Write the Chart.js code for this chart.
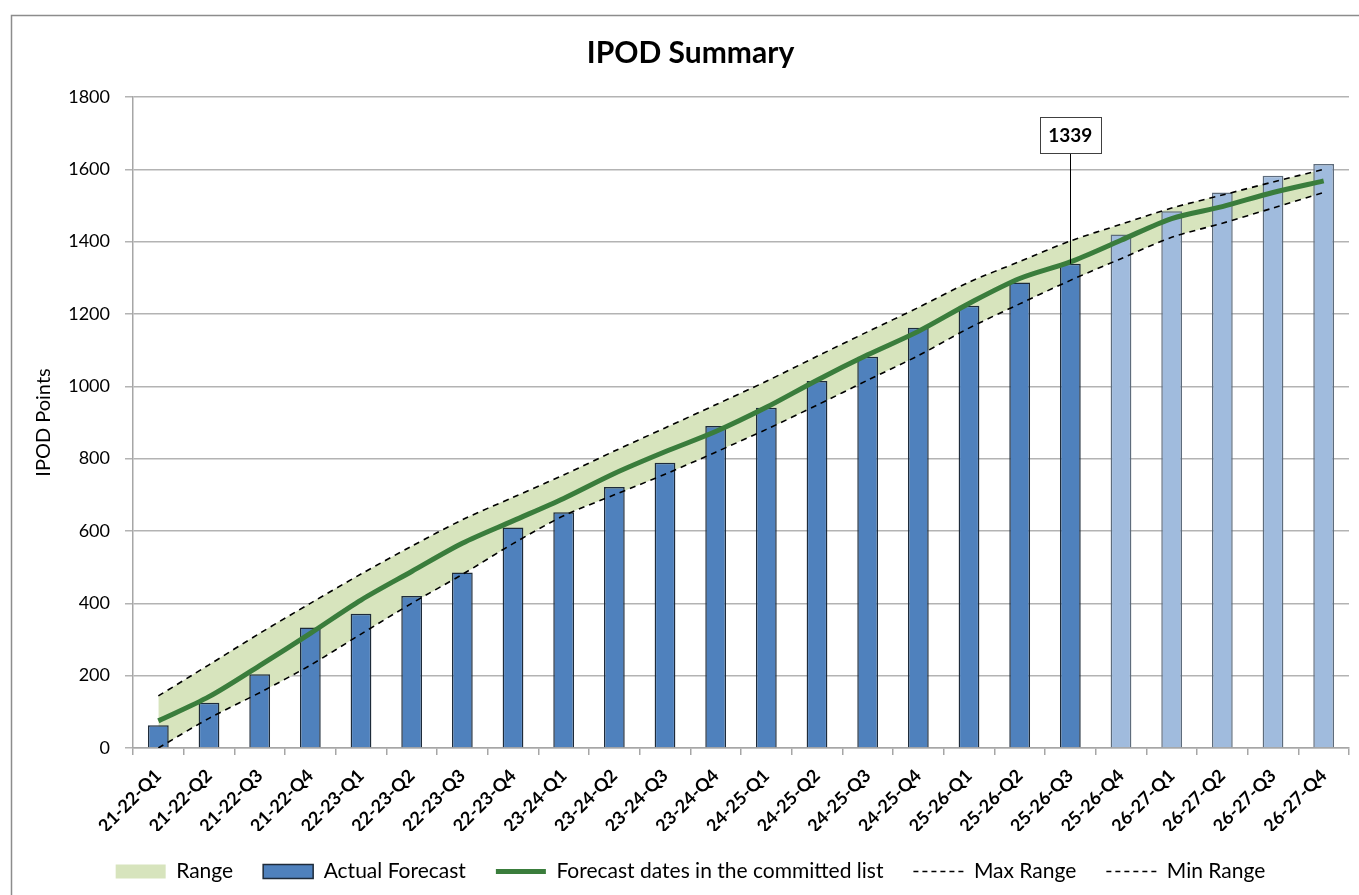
<!DOCTYPE html>
<html>
<head>
<meta charset="utf-8">
<script src="https://cdn.jsdelivr.net/npm/chart.js@4.4.1/dist/chart.umd.min.js"></script>
<style>
  html,body{margin:0;padding:0;background:#fff;overflow:hidden;}
  #wrap{width:1359px;height:895px;position:relative;}
</style>
</head>
<body>
<div id="wrap"><canvas id="ipodChart" width="1359" height="895"></canvas></div>
<script>
// Data
const quarters = ['21-22-Q1','21-22-Q2','21-22-Q3','21-22-Q4','22-23-Q1','22-23-Q2','22-23-Q3','22-23-Q4',
  '23-24-Q1','23-24-Q2','23-24-Q3','23-24-Q4','24-25-Q1','24-25-Q2','24-25-Q3','24-25-Q4',
  '25-26-Q1','25-26-Q2','25-26-Q3','25-26-Q4','26-27-Q1','26-27-Q2','26-27-Q3','26-27-Q4'];
const actualForecast = [63,125,204,333,371,420,485,610,652,722,789,890,941,1015,1082,1162,1223,1287,1339,1420,1484,1536,1582,1615];
const forecastDates = [75,142,228,317,409,488,566,628,690,759,819,875,942,1017,1087,1152,1229,1298,1344,1404,1464,1497,1536,1568];
const maxRange = [144,230,317,400,481,558,631,693,755,821,885,949,1014,1083,1151,1218,1288,1345,1402,1448,1493,1529,1565,1600];
const minRange = [0,82,153,229,315,400,480,565,642,700,757,818,881,948,1017,1085,1161,1228,1293,1353,1412,1451,1493,1536];
const actualCount = 19;   // quarters delivered so far (dark bars)
const calloutIndex = 18;  // bar carrying the value box

const FONT = 'Lato, "Open Sans", sans-serif';
const darkBlue = '#4F81BD', lightBlue = '#A0BBDD', rangeGreen = '#D7E4BD', lineGreen = '#3A7D3C';

const barColors = quarters.map((q,i) => i < actualCount ? darkBlue : lightBlue);
const barBorders = quarters.map((q,i) => i < actualCount ? '#1E2B3A' : '#5E6C7C');

// outer frame like the spreadsheet chart object
const framePlugin = {
  id:'frame',
  beforeDraw(chart){
    const c = chart.ctx;
    c.save();
    c.fillStyle = '#fff';
    c.fillRect(0,0,chart.width,chart.height);
    c.strokeStyle = '#8C8C8C';
    c.lineWidth = 1.5;
    c.strokeRect(11.5,15.5,1400,1000);
    c.restore();
  }
};

// value box with leader line above one bar
const calloutPlugin = {
  id:'callout',
  afterDatasetsDraw(chart){
    const bar = chart.getDatasetMeta(1).data[calloutIndex];
    if(!bar) return;
    const c = chart.ctx;
    const x = bar.x, yTop = bar.y;
    const boxW = 61, boxH = 36, boxBottom = 153;
    c.save();
    c.strokeStyle = '#000';
    c.lineWidth = 1;
    c.beginPath();
    c.moveTo(Math.round(x)+0.5, boxBottom);
    c.lineTo(Math.round(x)+0.5, yTop);
    c.stroke();
    c.fillStyle = '#fff';
    c.fillRect(x-boxW/2, boxBottom-boxH, boxW, boxH);
    c.strokeStyle = '#404040';
    c.strokeRect(Math.round(x-boxW/2)+0.5, boxBottom-boxH+0.5, boxW, boxH);
    c.fillStyle = '#000';
    c.font = 'bold 19px ' + FONT;
    c.textAlign = 'center';
    c.textBaseline = 'middle';
    c.fillText(String(actualForecast[calloutIndex]), x, boxBottom-boxH/2+1);
    c.restore();
  }
};

new Chart(document.getElementById('ipodChart'), {
  type:'bar',
  data:{
    labels:quarters,
    datasets:[
      {type:'line',label:'Range',data:maxRange,borderWidth:0,borderColor:'rgba(0,0,0,0)',pointRadius:0,
        backgroundColor:rangeGreen,fill:4,tension:0.3,order:10},
      {type:'bar',label:'Actual Forecast',data:actualForecast,backgroundColor:barColors,borderColor:barBorders,
        borderWidth:1.5,barPercentage:0.41,categoryPercentage:1,order:5},
      {type:'line',label:'Forecast dates in the committed list',data:forecastDates,borderColor:lineGreen,
        borderWidth:5,pointRadius:0,fill:false,tension:0.3,order:1},
      {type:'line',label:'Max Range',data:maxRange,borderColor:'#000',borderWidth:1.6,borderDash:[6,5],
        pointRadius:0,fill:false,tension:0.3,order:2},
      {type:'line',label:'Min Range',data:minRange,borderColor:'#000',borderWidth:1.6,borderDash:[6,5],
        pointRadius:0,fill:false,tension:0.3,order:2}
    ]
  },
  options:{
    responsive:false,
    animation:false,
    layout:{padding:{left:32,right:10,top:0,bottom:3}},
    plugins:{
      title:{display:true,text:'IPOD Summary',color:'#000',font:{family:FONT,size:30,weight:'bold'},padding:{top:35,bottom:26}},
      tooltip:{enabled:false},
      legend:{
        position:'bottom',
        labels:{
          color:'#000',font:{family:FONT,size:21},usePointStyle:true,pointStyleWidth:50,boxHeight:14,padding:30,
          generateLabels(){
            return [
              {text:'Range',fillStyle:rangeGreen,strokeStyle:rangeGreen,lineWidth:0,pointStyle:'rect',datasetIndex:0,hidden:false},
              {text:'Actual Forecast',fillStyle:darkBlue,strokeStyle:'#1E2B3A',lineWidth:1.5,pointStyle:'rect',datasetIndex:1,hidden:false},
              {text:'Forecast dates in the committed list',fillStyle:lineGreen,strokeStyle:lineGreen,lineWidth:5,pointStyle:'line',datasetIndex:2,hidden:false},
              {text:'Max Range',fillStyle:'#000',strokeStyle:'#000',lineWidth:1.5,lineDash:[5,4],pointStyle:'line',datasetIndex:3,hidden:false},
              {text:'Min Range',fillStyle:'#000',strokeStyle:'#000',lineWidth:1.5,lineDash:[5,4],pointStyle:'line',datasetIndex:4,hidden:false}
            ];
          }
        }
      }
    },
    scales:{
      x:{
        grid:{display:true,drawOnChartArea:false,drawTicks:true,tickLength:7,color:'#A6A6A6',lineWidth:1.5},
        border:{color:'#A6A6A6',width:1.5},
        ticks:{color:'#000',font:{family:FONT,size:18,weight:'bold'},maxRotation:45,minRotation:45,autoSkip:false,padding:10},
        afterFit(scale){ scale.height = 83; }
      },
      y:{
        min:0,max:1800,
        grid:{color:'#B3B3B3',lineWidth:1.5,tickLength:8},
        border:{color:'#A6A6A6',width:1.5},
        ticks:{stepSize:200,color:'#000',font:{family:FONT,size:18},padding:15,callback:v => String(v)},
        title:{display:true,text:'IPOD Points',color:'#000',font:{family:FONT,size:20},padding:{top:0,bottom:4}},
        afterFit(scale){ scale.width = 101; }
      }
    }
  },
  plugins:[framePlugin,calloutPlugin]
});
</script>
</body>
</html>
